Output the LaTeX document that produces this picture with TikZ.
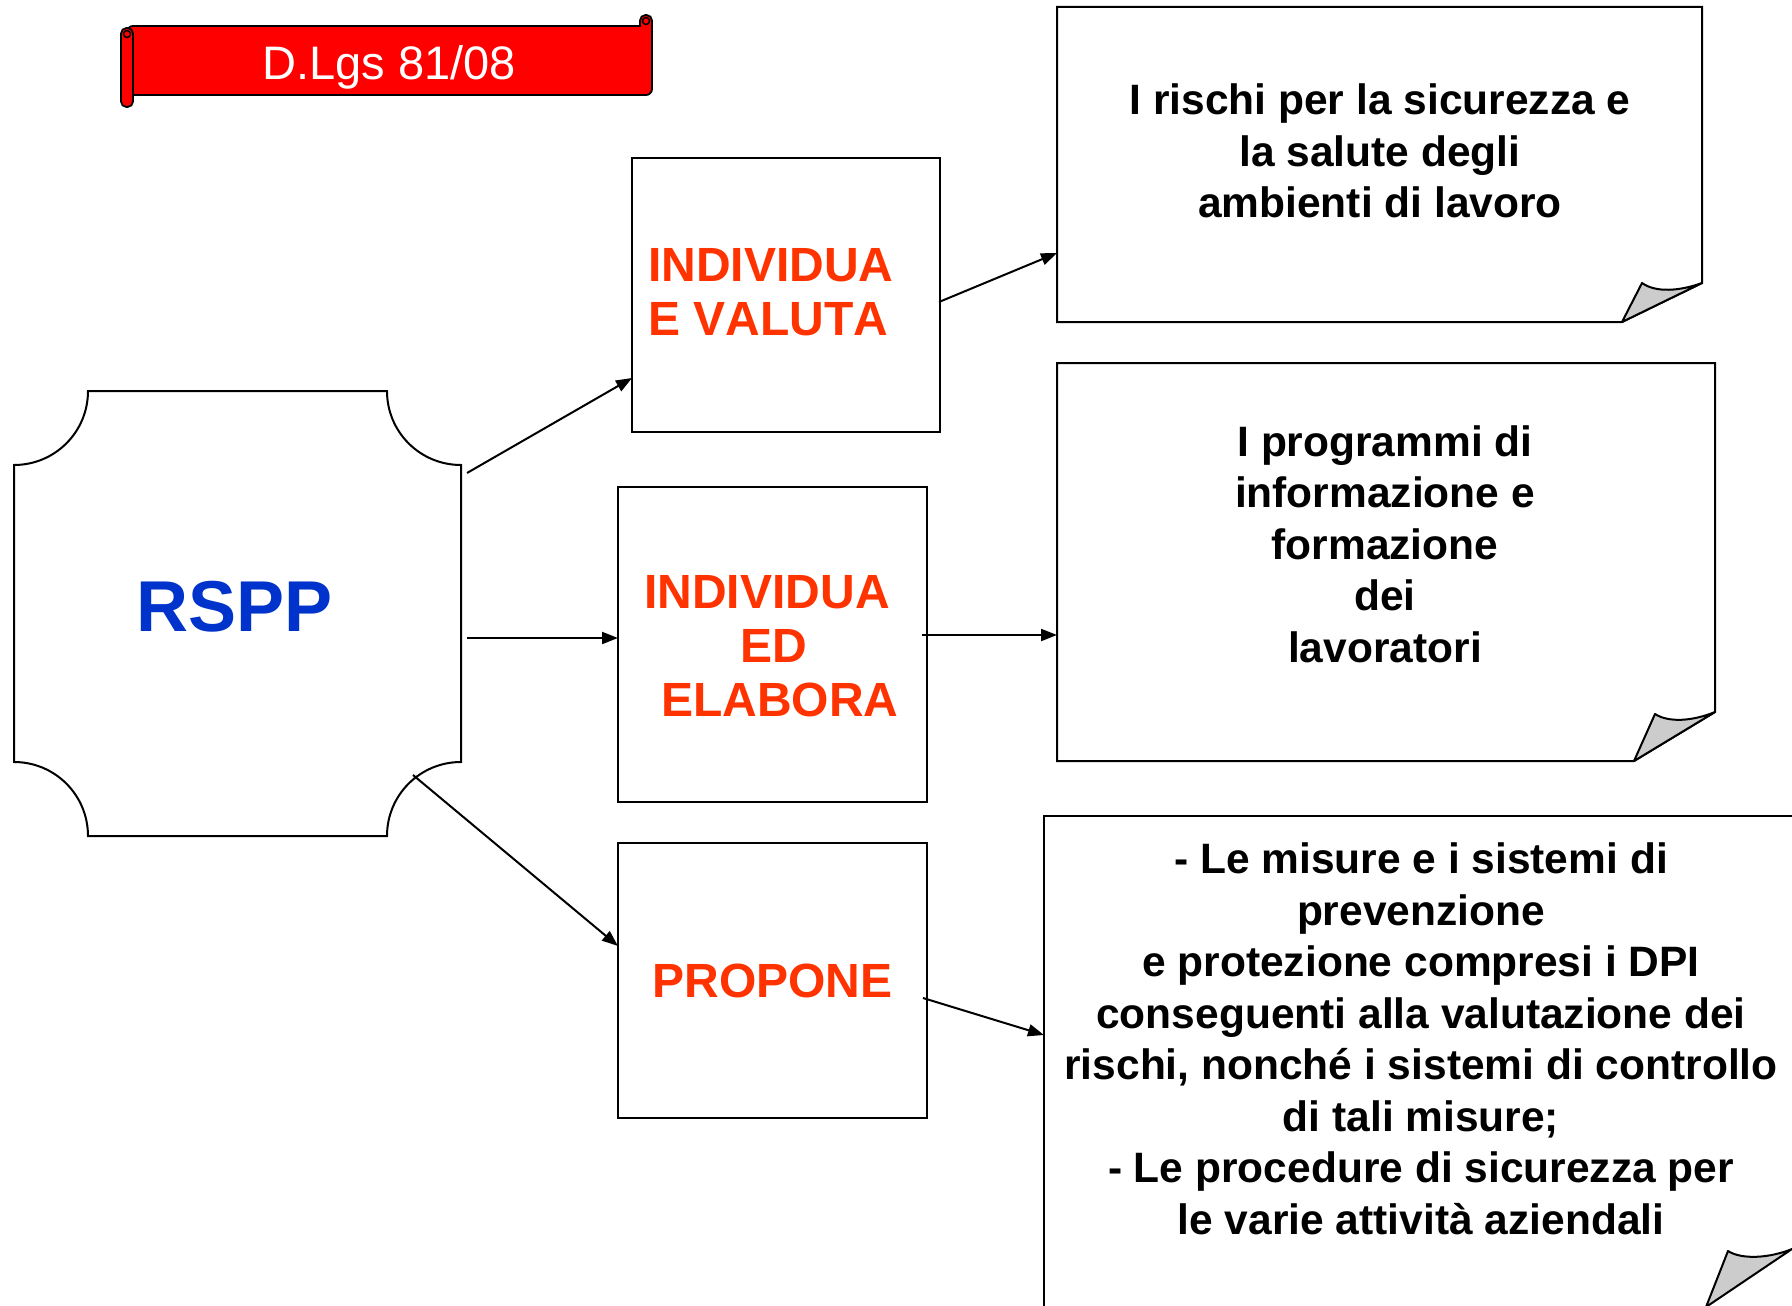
\documentclass[tikz,border=0pt]{standalone}
\usepackage{fontspec}
\setmainfont{Liberation Sans}[Kerning=Off]
\usetikzlibrary{arrows.meta,calc}
\definecolor{redtxt}{HTML}{FF3300}
\definecolor{bluetxt}{HTML}{0033CC}
\definecolor{foldgray}{HTML}{CCCCCC}
\begin{document}
\begin{tikzpicture}[x=1pt,y=-1pt,
  outline/.style={draw=black,line width=2pt,line join=miter},
  boxnode/.style={draw=black,line width=2pt,inner sep=0pt,outer sep=0pt},
  area/.style={inner sep=0pt,outer sep=0pt},
  arr/.style={line width=2pt,-{Triangle[length=16pt,width=12pt]}},
  redlbl/.style={text=redtxt,font=\fontsize{48}{54}\selectfont\bfseries,inner sep=0pt},
  blklbl/.style={text=black,font=\fontsize{42.5}{51.5}\selectfont\bfseries,inner sep=0pt,align=center},
  foldpart/.style={draw=black,line width=2pt,fill=foldgray,line join=round}
]
\useasboundingbox (0,0) rectangle (1792,1306);
\fill[white] (0,0) rectangle (1792,1306);

% ---- banner (scroll)
\draw[line width=1.8pt,fill=red,rounded corners=6pt] (127,95) -- (127,26) -- (652,26) -- (652,95) -- cycle;
\draw[line width=1.8pt,fill=red,rounded corners=5.5pt] (640,27) -- (640,15) -- (652,15) -- (652,32);
\draw[line width=1.5pt,fill=red] (646,21) circle (3.5);
\draw[line width=1.8pt,fill=red,rounded corners=5.5pt] (121,28) rectangle (133,107);
\draw[line width=1.5pt,fill=red] (127,34) circle (3.5);
\node[area,anchor=base,text=white,font=\fontsize{47}{56}\selectfont] (title) at (389,80) {D.Lgs 81/08};

% ---- RSPP shape (concave corners)
\draw[outline,fill=white] (88,391) -- (387,391)
  .. controls (387,432) and (420,465) .. (461,465) -- (461,762)
  .. controls (420,762) and (387,795) .. (387,836) -- (88,836)
  .. controls (88,795) and (55,762) .. (14,762) -- (14,465)
  .. controls (55,465) and (88,432) .. (88,391) -- cycle;
\node[area,minimum width=447pt,minimum height=445pt] (rspp) at (237.5,613.5) {};
\node[area,text=bluetxt,font=\fontsize{72}{80}\selectfont\bfseries] (rsppl) at (235,606.5) {RSPP};

% ---- text boxes with folded corners
\draw[outline,fill=white] (1057,7) -- (1702,7) -- (1702,283) -- (1622,322) -- (1057,322) -- cycle;
\draw[foldpart] (1622,322) -- (1702,283) .. controls (1680,291) and (1656,293) .. (1642,283) -- cycle;
\draw[outline,fill=white] (1057,363) -- (1715,363) -- (1715,712) -- (1634,761) -- (1057,761) -- cycle;
\draw[foldpart] (1634,761) -- (1715,712) .. controls (1693,721) and (1669,723) .. (1655,714) -- cycle;
\draw[outline,fill=white] (1044,1312) -- (1044,816) -- (1798,816) -- (1798,1312);
\draw[foldpart] (1706,1307) -- (1792,1249) .. controls (1770,1258) and (1742,1260) .. (1728,1251) -- cycle;

\node[area,minimum width=645pt,minimum height=315pt] (t1) at (1379.5,164.5) {};
\node[area,minimum width=658pt,minimum height=398pt] (t2) at (1386,562) {};
\node[area,minimum width=750pt,minimum height=492pt] (t3) at (1419,1062) {};

\node[blklbl] (t1l) at (1380,151) {I rischi per la sicurezza e\\la salute degli\\ambienti di lavoro};
\node[blklbl] (t2l) at (1385,544) {I programmi di\\informazione e\\formazione\\dei\\lavoratori};
\node[blklbl] (t3l) at (1421,1039) {- Le misure e i sistemi di\\prevenzione\\e protezione compresi i DPI\\conseguenti alla valutazione dei\\rischi, nonché i sistemi di controllo\\di tali misure;\\- Le procedure di sicurezza per\\le varie attività aziendali};

% ---- action boxes
\node[boxnode,minimum width=308pt,minimum height=274pt] (b1) at (786,295) {};
\node[redlbl,align=left,anchor=west] (b1l) at (648,292) {INDIVIDUA\\E VALUTA};
\node[boxnode,minimum width=309pt,minimum height=315pt] (b2) at (772.5,644.5) {};
\node[redlbl,align=center] (b2l) at (767,646) {INDIVIDUA\\\hspace*{14pt}ED\\\hspace*{26pt}ELABORA};
\node[boxnode,minimum width=309pt,minimum height=275pt,text=redtxt,font=\fontsize{48}{54}\selectfont\bfseries] (b3) at (772.5,980.5) {PROPONE};

% ---- connectors
\draw[arr] ($(rspp.north east)+(6,82)$) -- ($(b1.north west)+(0,220)$);
\draw[arr] ($(rspp.north east)+(6,247)$) -- ($(b2.north west)+(0,151)$);
\draw[arr] ($(rspp.south east)+(-48,-61)$) -- ($(b3.north west)+(0,103)$);
\draw[arr] ($(b1.north east)+(-1,144)$) -- ($(t1.north west)+(0,246)$);
\draw[arr] ($(b2.north east)+(-5,148)$) -- ($(t2.north west)+(0,272)$);
\draw[arr] ($(b3.north east)+(-4,155)$) -- ($(t3.north west)+(0,219)$);
\end{tikzpicture}
\end{document}
